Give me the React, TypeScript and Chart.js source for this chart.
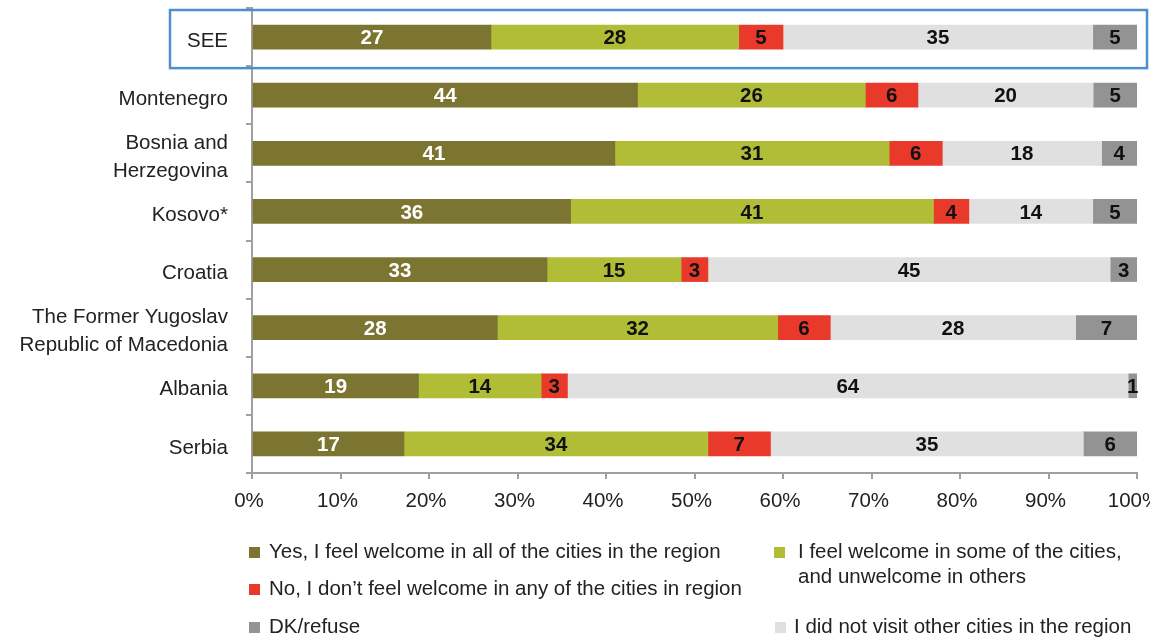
import { useEffect, useRef } from 'react';
import { Chart, registerables } from 'chart.js';

Chart.register(...registerables);

const FONT = '"Liberation Sans", Arial, Helvetica, sans-serif';

const categories: (string | string[])[] = [
  'SEE',
  'Montenegro',
  ['Bosnia and', 'Herzegovina'],
  'Kosovo*',
  'Croatia',
  ['The Former Yugoslav', 'Republic of Macedonia'],
  'Albania',
  'Serbia',
];

const yesAll = [27, 44, 41, 36, 33, 28, 19, 17];
const someCities = [28, 26, 31, 41, 15, 32, 14, 34];
const notWelcome = [5, 6, 6, 4, 3, 6, 3, 7];
const didNotVisit = [35, 20, 18, 14, 45, 28, 64, 35];
const dkRefuse = [5, 5, 4, 5, 3, 7, 1, 6];

const xTicks = [0, 10, 20, 30, 40, 50, 60, 70, 80, 90, 100];

const seriesNames = [
  'Yes, I feel welcome in all of the cities in the region',
  'I feel welcome in some of the cities, and unwelcome in others',
  'No, I don\u2019t feel welcome in any of the cities in region',
  'I did not visit other cities in the region',
  'DK/refuse',
];
const seriesValues = [yesAll, someCities, notWelcome, didNotVisit, dkRefuse];
const seriesColors = ['#7b7531', '#b1bd37', '#e8392a', '#e0e0e0', '#939393'];
const labelColors = ['#ffffff', '#111111', '#111111', '#111111', '#111111'];

export default function App() {
  const ref = useRef<HTMLCanvasElement>(null);

  useEffect(() => {
    if (!ref.current) return;
    const totals = categories.map((_, i) =>
      seriesValues.reduce((s, arr) => s + arr[i], 0)
    );

    const dataLabels = {
      id: 'dataLabels',
      afterDatasetsDraw(chart: any) {
        const ctx = chart.ctx;
        ctx.save();
        ctx.font = `bold 20.5px ${FONT}`;
        ctx.textAlign = 'center';
        ctx.textBaseline = 'middle';
        chart.data.datasets.forEach((_: any, di: number) => {
          const meta = chart.getDatasetMeta(di);
          meta.data.forEach((bar: any, i: number) => {
            const { x, y, base } = bar.getProps(['x', 'y', 'base'], true);
            ctx.fillStyle = labelColors[di];
            ctx.fillText(String(seriesValues[di][i]), (x + base) / 2, y + 1.5);
          });
        });
        ctx.restore();
      },
    };

    const highlight = {
      id: 'highlight',
      afterDraw(chart: any) {
        const ys = chart.scales.y;
        const c = ys.getPixelForValue(0);
        const half = (ys.getPixelForValue(1) - c) / 2;
        const ctx = chart.ctx;
        ctx.save();
        ctx.strokeStyle = '#4d8fcd';
        ctx.lineWidth = 2.5;
        ctx.strokeRect(170, c - half + 2, 977, 2 * half);
        ctx.restore();
      },
    };

    const legend = {
      id: 'customLegend',
      afterDraw(chart: any) {
        const ctx = chart.ctx;
        ctx.save();
        ctx.font = `20.5px ${FONT}`;
        ctx.textAlign = 'left';
        ctx.textBaseline = 'middle';
        const items = [
          { s: 0, sx: 249, tx: 269, y: 552, lines: [seriesNames[0]] },
          { s: 1, sx: 774, tx: 798, y: 552, lines: ['I feel welcome in some of the cities,', 'and unwelcome in others'] },
          { s: 2, sx: 249, tx: 269, y: 589, lines: [seriesNames[2]] },
          { s: 4, sx: 249, tx: 269, y: 627, lines: [seriesNames[4]] },
          { s: 3, sx: 775, tx: 794, y: 627, lines: [seriesNames[3]] },
        ];
        items.forEach((it) => {
          ctx.fillStyle = seriesColors[it.s];
          ctx.fillRect(it.sx, it.y - 5, 11, 11);
          ctx.fillStyle = '#222222';
          it.lines.forEach((ln, k) => ctx.fillText(ln, it.tx, it.y + k * 25));
        });
        ctx.restore();
      },
    };

    const chart = new Chart(ref.current, {
      type: 'bar',
      data: {
        labels: categories as any,
        datasets: seriesValues.map((vals, di) => ({
          label: seriesNames[di],
          data: vals.map((v, i) => (v / totals[i]) * 100),
          backgroundColor: seriesColors[di],
          borderWidth: 0,
          barThickness: 24,
        })),
      },
      options: {
        indexAxis: 'y',
        responsive: false,
        animation: false,
        layout: { padding: { left: 0, top: 8, right: 13, bottom: 0 } },
        plugins: {
          legend: { display: false },
          tooltip: { enabled: false },
          title: { display: false },
        },
        scales: {
          x: {
            stacked: true,
            min: 0,
            max: 100,
            afterFit(scale: any) {
              scale.height = 168;
              scale.paddingLeft = 0;
              scale.paddingRight = 0;
            },
            afterBuildTicks(scale: any) {
              scale.ticks = xTicks.map((v) => ({ value: v }));
            },
            ticks: {
              callback: (v: any) => `${v}%`,
              color: '#222222',
              font: { family: FONT, size: 20.5 },
              padding: 10,
              labelOffset: -3,
              maxRotation: 0,
              autoSkip: false,
            },
            grid: {
              drawOnChartArea: false,
              drawTicks: true,
              tickLength: 6,
              color: '#a0a0a0',
              lineWidth: 2,
            },
            border: { display: true, color: '#a0a0a0', width: 2 },
          },
          y: {
            stacked: true,
            afterFit(scale: any) {
              scale.width = 252;
              scale.paddingTop = 0;
              scale.paddingBottom = 0;
            },
            ticks: {
              color: '#222222',
              font: { family: FONT, size: 20.5, lineHeight: 1.36 },
              padding: 18,
              labelOffset: 4,
              autoSkip: false,
            },
            grid: {
              offset: true,
              drawOnChartArea: false,
              drawTicks: true,
              tickLength: 6,
              color: '#a0a0a0',
              lineWidth: 2,
            },
            border: { display: true, color: '#a0a0a0', width: 2 },
          },
        },
      },
      plugins: [dataLabels, highlight, legend],
    });

    return () => chart.destroy();
  }, []);

  return (
    <div style={{ position: 'fixed', left: 0, top: 0, width: 1150, height: 641, background: '#ffffff' }}>
      <canvas ref={ref} width={1150} height={641} style={{ display: 'block', width: 1150, height: 641 }} />
    </div>
  );
}
